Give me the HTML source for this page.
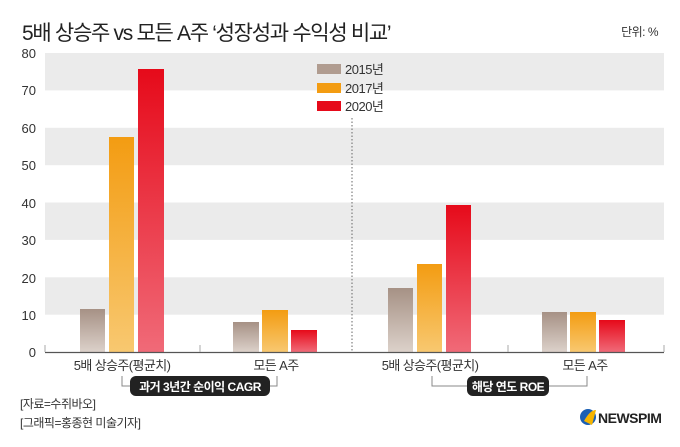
<!DOCTYPE html>
<html><head><meta charset="utf-8"><style>
body{margin:0;background:#fff;}
text{font-family:"Liberation Sans","Noto Sans CJK KR",sans-serif;}
</style></head><body>
<svg width="680" height="442" viewBox="0 0 680 442" xmlns="http://www.w3.org/2000/svg">
<defs>
<linearGradient id="g1" x1="0" y1="0" x2="0" y2="1"><stop offset="0" stop-color="#a69185"/><stop offset="1" stop-color="#dcd1ca"/></linearGradient>
<linearGradient id="g2" x1="0" y1="0" x2="0" y2="1"><stop offset="0" stop-color="#f39c12"/><stop offset="1" stop-color="#f8c870"/></linearGradient>
<linearGradient id="g3" x1="0" y1="0" x2="0" y2="1"><stop offset="0" stop-color="#e60a1a"/><stop offset="1" stop-color="#f06a78"/></linearGradient>
</defs>
<text x="22" y="40" font-size="21" fill="#222" letter-spacing="-1.3">5배 상승주 vs 모든 A주 ‘성장성과 수익성 비교’</text>
<text x="658" y="36" font-size="12" fill="#333" text-anchor="end" letter-spacing="-0.5">단위: %</text>
<g fill="#ebebeb">
<rect x="45" y="53" width="619" height="37.4"/>
<rect x="45" y="127.8" width="619" height="37.4"/>
<rect x="45" y="202.5" width="619" height="37.4"/>
<rect x="45" y="277.3" width="619" height="37.4"/>
</g>
<g font-size="13" fill="#333" text-anchor="end">
<text x="36" y="58">80</text><text x="36" y="95">70</text><text x="36" y="133">60</text><text x="36" y="170">50</text><text x="36" y="208">40</text><text x="36" y="245">30</text><text x="36" y="283">20</text><text x="36" y="320">10</text><text x="36" y="357">0</text>
</g>
<line x1="352" y1="118" x2="352" y2="352" stroke="#666" stroke-dasharray="1.5,2"/>
<rect x="80" y="309" width="25" height="43" fill="url(#g1)"/>
<rect x="109" y="137" width="25" height="215" fill="url(#g2)"/>
<rect x="138" y="69" width="26" height="283" fill="url(#g3)"/>
<rect x="233" y="322" width="26" height="30" fill="url(#g1)"/>
<rect x="262" y="310" width="26" height="42" fill="url(#g2)"/>
<rect x="291" y="330" width="26" height="22" fill="url(#g3)"/>
<rect x="388" y="288" width="25" height="64" fill="url(#g1)"/>
<rect x="417" y="264" width="25" height="88" fill="url(#g2)"/>
<rect x="446" y="205" width="25" height="147" fill="url(#g3)"/>
<rect x="542" y="312" width="25" height="40" fill="url(#g1)"/>
<rect x="570" y="312" width="26" height="40" fill="url(#g2)"/>
<rect x="599" y="320" width="26" height="32" fill="url(#g3)"/>
<line x1="45" y1="352.5" x2="664" y2="352.5" stroke="#555" stroke-width="1.2"/>
<g stroke="#aaa"><line x1="45" y1="345" x2="45" y2="352"/><line x1="200" y1="345" x2="200" y2="352"/><line x1="508" y1="345" x2="508" y2="352"/><line x1="664" y1="345" x2="664" y2="352"/></g>
<rect x="317" y="64" width="24" height="10" fill="#b09c90"/>
<rect x="317" y="83" width="24" height="10" fill="#f39c12"/>
<rect x="317" y="101" width="24" height="10" fill="#e60a1a"/>
<g font-size="13" fill="#333" letter-spacing="-0.5"><text x="345" y="74">2015년</text><text x="345" y="93">2017년</text><text x="345" y="111">2020년</text></g>
<g font-size="13" fill="#333" text-anchor="middle" letter-spacing="-0.6">
<text x="122" y="370">5배 상승주(평균치)</text><text x="276" y="370">모든 A주</text>
<text x="430" y="370">5배 상승주(평균치)</text><text x="585" y="370">모든 A주</text>
</g>
<g stroke="#888" fill="none">
<path d="M122 376 V386 H277 V376"/>
<path d="M432 376 V386 H587 V376"/>
</g>
<rect x="130" y="376" width="140" height="20" rx="6" fill="#222"/>
<text x="200" y="391" font-size="12" font-weight="bold" fill="#fff" text-anchor="middle" letter-spacing="-0.5">과거 3년간 순이익 CAGR</text>
<rect x="467" y="376" width="82" height="20" rx="6" fill="#222"/>
<text x="508" y="391" font-size="12" font-weight="bold" fill="#fff" text-anchor="middle" letter-spacing="-0.5">해당 연도 ROE</text>
<g font-size="12" fill="#333" letter-spacing="-0.5"><text x="20" y="408">[자료=수쥐바오]</text><text x="20" y="427">[그래픽=홍종현 미술기자]</text></g>
<circle cx="588" cy="417" r="8" fill="#1a5fb4"/><path d="M584 421 Q590 410 596 410 L592 425 Z" fill="#f5b400"/>
<text x="598" y="423" font-size="14" font-weight="bold" fill="#222" letter-spacing="-0.5">NEWSPIM</text>
</svg>
</body></html>
